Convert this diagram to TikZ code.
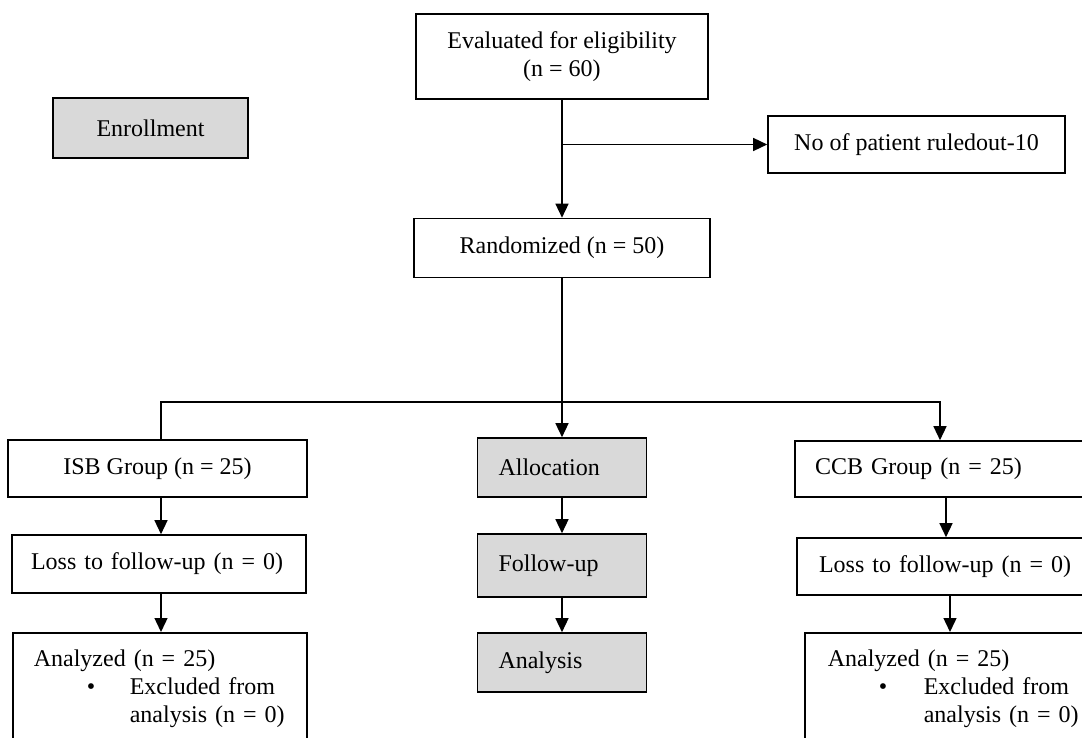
\documentclass[tikz,border=0pt]{standalone}
\usepackage{fontspec}
\setmainfont{Liberation Serif}
\usepackage{tikz}
\usetikzlibrary{arrows.meta}
\definecolor{phasegray}{RGB}{217,217,217}

\begin{document}
\begin{tikzpicture}[x=1pt,y=-1pt,
	box/.style={draw, line width=1.6pt, inner sep=0pt, font=\fontsize{24}{28}\selectfont},
	phase/.style={box, fill=phasegray},
	leftbox/.style={align=left, inner xsep=#1},
	flow/.style={-{Triangle[length=14pt,width=13pt]}, line width=1.4pt}]
	\clip (0,0) rectangle (1082,738);
	\node[box, minimum width=292pt, minimum height=85pt, align=center] (eval) at (562,56.5) {Evaluated for eligibility\\(n = 60)};
	\node[phase, minimum width=195pt, minimum height=60pt] (enroll) at (150.5,128) {Enrollment};
	\node[box, minimum width=297pt, minimum height=57pt] (ruled) at (916.5,144.5) {No of patient ruledout-10};
	\node[box, minimum width=296pt, minimum height=59pt] (rand) at (562,248) {Randomized (n = 50)};
	\node[box, minimum width=299pt, minimum height=57pt] (isb) at (157.5,468.5) {ISB Group (n = 25)};
	\node[box, leftbox=19pt, text width=256pt, minimum height=58pt] (lossisb) at (159,564) {Loss to follow-up (n = 0)};
	\node[box, leftbox=21pt, text width=252pt, anchor=north west, inner ysep=17pt] (analisb) at (12,632) {\parbox[t][150pt][t]{252pt}{Analyzed (n = 25)\\\hspace*{53pt}\makebox[43pt][l]{\textbullet}Excluded from\\\hspace*{96pt}analysis (n = 0)}};
	\node[phase, leftbox=21pt, text width=127pt, minimum height=59pt] (alloc) at (562,467.5) {Allocation};
	\node[phase, leftbox=21pt, text width=127pt, minimum height=63pt] (follow) at (562,565.5) {Follow-up};
	\node[phase, leftbox=21pt, text width=127pt, minimum height=59pt] (analysis) at (562,662.5) {Analysis};
	\node[box, leftbox=20pt, text width=262pt, minimum height=56pt] (ccb) at (946,469) {CCB Group (n = 25)};
	\node[box, leftbox=22pt, text width=262pt, minimum height=57pt] (lossccb) at (950,566.5) {Loss to follow-up (n = 0)};
	\node[box, leftbox=23pt, text width=262pt, anchor=north west, inner ysep=17pt] (analccb) at (804,632) {\parbox[t][150pt][t]{262pt}{Analyzed (n = 25)\\\hspace*{51pt}\makebox[45pt][l]{\textbullet}Excluded from\\\hspace*{96pt}analysis (n = 0)}};
	\coordinate (lt) at (161,402);
	\coordinate (rt) at (940,402);
	\draw[flow] (eval) -- (rand);
	\draw[flow] (eval.south |- ruled.west) -- (ruled.west);
	\draw[flow] (rand) -- (alloc);
	\draw[flow] (lt |- isb.north) -- (lt) -- (rt) -- (rt |- ccb.north);
	\draw[flow] (lt |- isb.south) -- (lt |- lossisb.north);
	\draw[flow] (lt |- lossisb.south) -- (lt |- analisb.north);
	\draw[flow] (alloc) -- (follow);
	\draw[flow] (follow) -- (analysis);
	\draw[flow] (ccb.south) -- (ccb.south |- lossccb.north);
	\draw[flow] (lossccb.south) -- (lossccb.south |- analccb.north);
\end{tikzpicture}
\end{document}
